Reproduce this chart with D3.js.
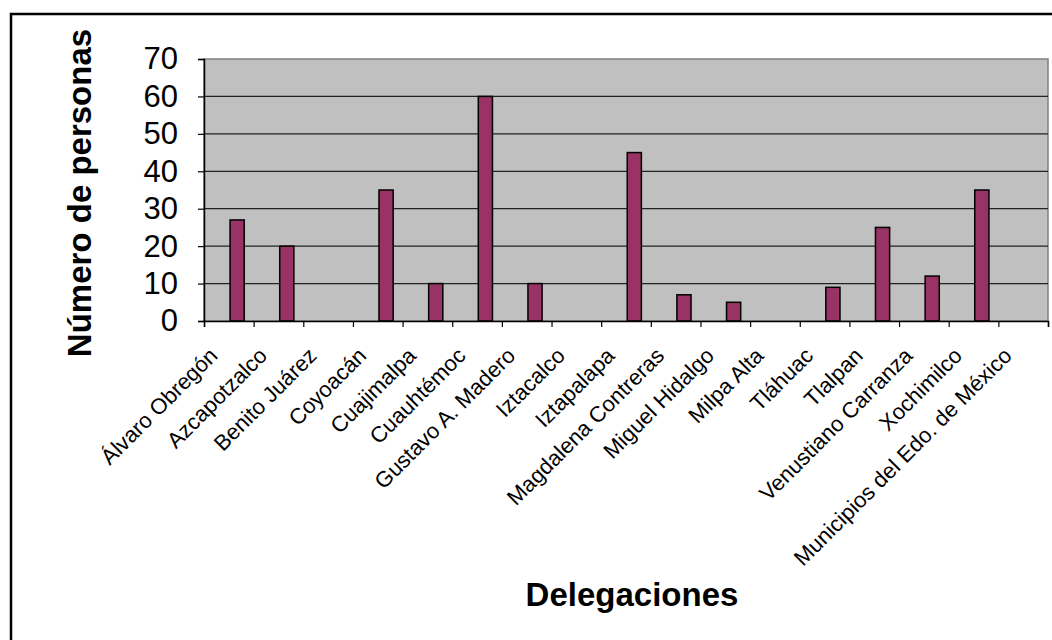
<!DOCTYPE html>
<html>
<head>
<meta charset="utf-8">
<script src="https://cdn.jsdelivr.net/npm/d3@7"></script>
<style>
  html, body { margin: 0; padding: 0; background: #fff; }
  svg { display: block; font-family: "Liberation Sans", Arial, sans-serif; }
</style>
</head>
<body>
<svg id="chart" width="1052" height="640"></svg>
<script>
// Personas por delegación
const categories = [
  "Álvaro Obregón", "Azcapotzalco", "Benito Juárez", "Coyoacán", "Cuajimalpa",
  "Cuauhtémoc", "Gustavo A. Madero", "Iztacalco", "Iztapalapa", "Magdalena Contreras",
  "Miguel Hidalgo", "Milpa Alta", "Tláhuac", "Tlalpan", "Venustiano Carranza",
  "Xochimilco", "Municipios del Edo. de México"
];
const personas = [27, 20, 0, 35, 10, 60, 10, 0, 45, 7, 5, 0, 9, 25, 12, 35, 0];
const yTicks = [0, 10, 20, 30, 40, 50, 60, 70];
const yTitle = "Número de personas";
const xTitle = "Delegaciones";

const svg = d3.select("#chart");

// plot area bounds
const plotLeft = 204, plotRight = 1048, plotTop = 59, plotBottom = 321;

// outer frame
svg.append("rect")
  .attr("x", 11).attr("y", 14)
  .attr("width", 1100).attr("height", 700)
  .attr("fill", "#fff").attr("stroke", "#000").attr("stroke-width", 2.5);

const x = d3.scaleBand().domain(categories).range([plotLeft, plotRight]).padding(0);
const xEdge = d3.scaleLinear().domain([0, categories.length]).range([plotLeft, plotRight]);
const y = d3.scaleLinear().domain([0, 70]).range([plotBottom, plotTop]);

// plot background
svg.append("rect")
  .attr("x", plotLeft).attr("y", plotTop)
  .attr("width", plotRight - plotLeft).attr("height", plotBottom - plotTop)
  .attr("fill", "#c0c0c0").attr("stroke", "#808080").attr("stroke-width", 1.5);

// gridlines
svg.append("g")
  .selectAll("line")
  .data(yTicks.filter(d => d > 0 && d < 70))
  .join("line")
  .attr("x1", plotLeft).attr("x2", plotRight)
  .attr("y1", d => y(d)).attr("y2", d => y(d))
  .attr("stroke", "#222").attr("stroke-width", 1.2);

// bars
svg.append("g")
  .selectAll("rect")
  .data(personas.map((v, i) => ({ c: categories[i], v })).filter(d => d.v > 0))
  .join("rect")
  .attr("x", d => x(d.c) + x.bandwidth() * 0.525)
  .attr("width", x.bandwidth() * 0.285)
  .attr("y", d => y(d.v))
  .attr("height", d => y(0) - y(d.v))
  .attr("fill", "#993366")
  .attr("stroke", "#000")
  .attr("stroke-width", 1.5);

// y axis
const yAxis = svg.append("g")
  .attr("transform", `translate(${plotLeft},0)`)
  .call(d3.axisLeft(y).tickValues(yTicks).tickSize(6).tickPadding(20));
yAxis.select(".domain").attr("stroke", "#000").attr("stroke-width", 1.5);
yAxis.selectAll(".tick line").attr("stroke", "#000").attr("stroke-width", 1.2);
yAxis.selectAll(".tick text")
  .attr("font-size", 31).attr("fill", "#000")
  .attr("font-family", "Liberation Sans, Arial, sans-serif");

// x axis with ticks at category boundaries
const xAxis = svg.append("g")
  .attr("transform", `translate(0,${plotBottom})`)
  .call(d3.axisBottom(xEdge).tickValues(d3.range(categories.length + 1)).tickSize(6).tickFormat(""));
xAxis.select(".domain").attr("stroke", "#000").attr("stroke-width", 1.5);
xAxis.selectAll(".tick line").attr("stroke", "#000").attr("stroke-width", 1.2);

// category labels, rotated
svg.append("g")
  .selectAll("text")
  .data(categories)
  .join("text")
  .attr("transform", d => `translate(${x(d) + x.bandwidth() / 2 - 10},${plotBottom + 36}) rotate(-45)`)
  .attr("text-anchor", "end")
  .attr("font-size", 22)
  .attr("fill", "#000")
  .text(d => d);

// axis titles
svg.append("text")
  .attr("transform", `translate(91,193) rotate(-90)`)
  .attr("text-anchor", "middle")
  .attr("font-size", 33)
  .attr("font-weight", "bold")
  .text(yTitle);

svg.append("text")
  .attr("x", 632).attr("y", 606)
  .attr("text-anchor", "middle")
  .attr("font-size", 33)
  .attr("font-weight", "bold")
  .text(xTitle);
</script>
</body>
</html>
